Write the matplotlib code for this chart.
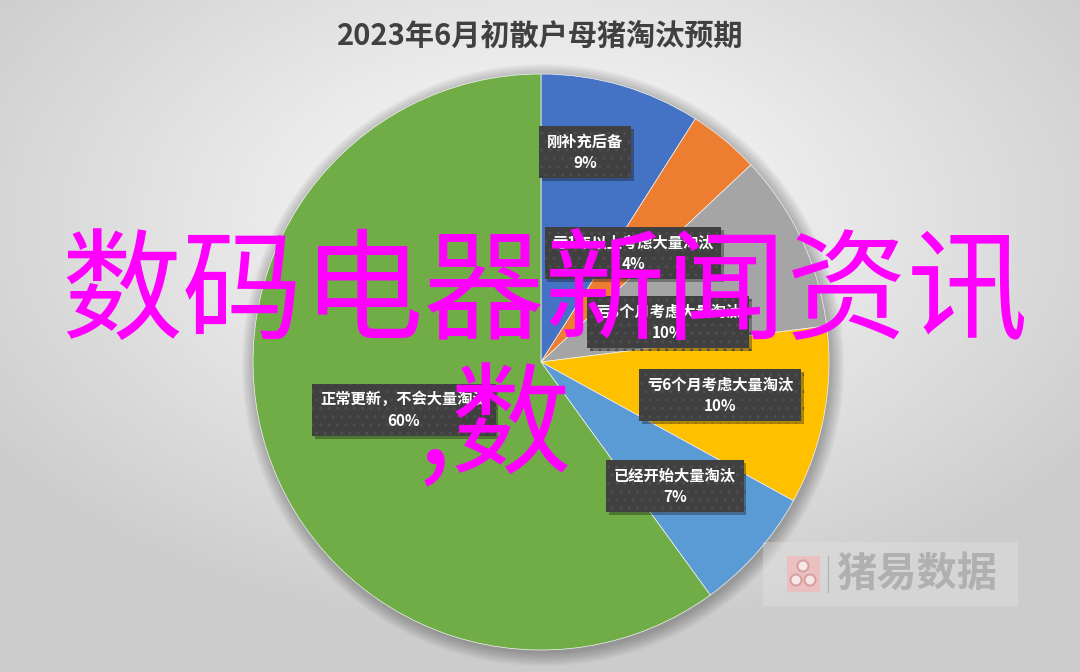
import numpy as np
import matplotlib
matplotlib.use("Agg")
import matplotlib.pyplot as plt
from matplotlib.patches import Circle, Rectangle
import matplotlib.patheffects as pe

plt.rcParams['font.family'] = ['Noto Sans CJK SC', 'DejaVu Sans']

# 数据
labels = ["刚补充后备", "亏1年以上考虑大量淘汰", "亏3个月考虑大量淘汰",
          "亏6个月考虑大量淘汰", "已经开始大量淘汰", "正常更新，不会大量淘汰"]
values = [9, 4, 10, 10, 7, 60]
colors = ["#4472C4", "#ED7D31", "#A5A5A5", "#FFC000", "#5B9BD5", "#70AD47"]
title = "2023年6月初散户母猪淘汰预期"

# 标签位置（像素，自上而下）
label_px = [(585, 152), (633, 253), (668, 322), (720, 395), (675, 486), (404, 410)]

W, H = 1080, 672
cx, cy, R = 541, H - 362, 288

fig = plt.figure(figsize=(W / 100, H / 100), dpi=100)

# 背景渐变
bg = fig.add_axes([0, 0, 1, 1])
yy, xx = np.mgrid[0:H, 0:W]
d = np.sqrt(((xx - 540) / W) ** 2 + ((yy - 220) / H) ** 2)
g = np.clip(1.0 - 0.32 * d, 0.80, 0.99)
bg.imshow(np.dstack([g, g, g]), extent=[0, W, 0, H], aspect='auto')
bg.axis('off')

ax = fig.add_axes([0, 0, 1, 1])

# 饼图阴影
for i in range(12):
    ax.add_patch(Circle((cx + 2, cy - 3), R + i * 1.2, color='black',
                        alpha=0.025, lw=0, zorder=1))

ax.pie(values, colors=colors, startangle=90, counterclock=False,
       center=(cx, cy), radius=R, frame=True,
       wedgeprops=dict(linewidth=0.5, edgecolor='#f4f4f4', zorder=2))
ax.set_xlim(0, W)
ax.set_ylim(0, H)
ax.set_aspect('auto')
ax.axis('off')

# 数据标签
for lab, v, (px, py) in zip(labels, values, label_px):
    t = ax.text(px, H - py, f"{lab}\n{v}%", ha='center', va='center',
                fontsize=11, fontweight='bold', color='white',
                linespacing=1.4, zorder=5,
                bbox=dict(boxstyle='square,pad=0.5', fc='#404040',
                          ec='#4e4e4e', lw=0, hatch='..'))
    t.get_bbox_patch().set_path_effects(
        [pe.SimplePatchShadow(offset=(2, -2), alpha=0.35), pe.Normal()])

# 标题
ax.text(540, H - 36, title, ha='center', va='center', fontsize=21,
        fontweight='bold', color='#404040', zorder=6)

# 水印
ax.add_patch(Rectangle((763, H - 606), 255, 64, color='#e6e6e6',
                       alpha=0.35, lw=0, zorder=3))
ax.add_patch(Rectangle((787, H - 592), 33, 36, color='#ebc0c0',
                       lw=0, zorder=3))
for ox, oy in [(803, H - 566), (796, H - 580), (810, H - 580)]:
    ax.add_patch(Circle((ox, oy), 5.5, fc='#f7e8e8', ec='#d9a0a0',
                        lw=1.5, zorder=4))
ax.plot([828, 828], [H - 592, H - 556], color='#b5b5b5', lw=1, zorder=3)
ax.text(836, H - 574, "猪易数据", ha='left', va='center', fontsize=29,
        fontweight='bold', color='#b0b0b0', zorder=4)

# 叠加文字
ax.text(545, H - 296, "数码电器新闻资讯", ha='center', va='center',
        fontsize=87, fontweight='medium', color='#FF00FF', zorder=10)
ax.text(418, H - 430, ",数", ha='left', va='center',
        fontsize=87, fontweight='medium', color='#FF00FF', zorder=10)

fig.savefig("out.png", dpi=100)
